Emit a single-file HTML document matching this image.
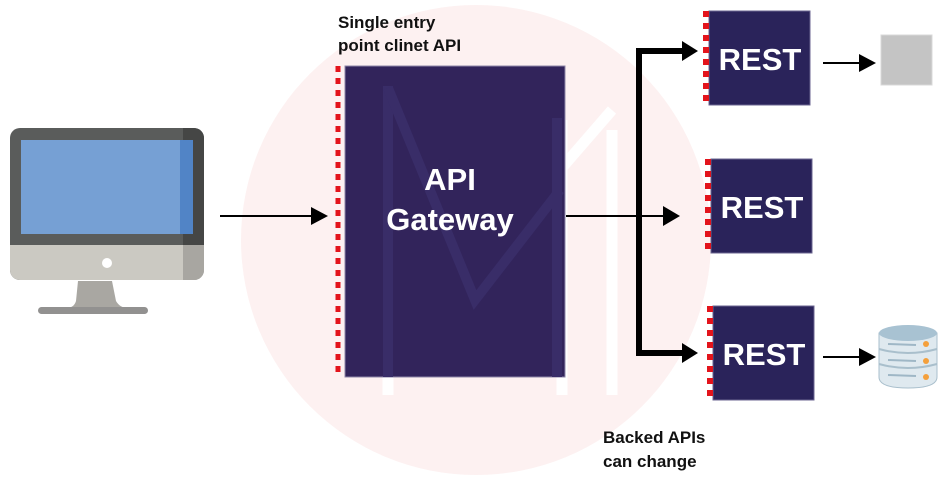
<!DOCTYPE html>
<html><head><meta charset="utf-8"><style>
body{margin:0;width:948px;height:478px;background:#fff;overflow:hidden;font-family:"Liberation Sans",sans-serif}
</style></head><body>
<svg width="948" height="478" viewBox="0 0 948 478" xmlns="http://www.w3.org/2000/svg" style="position:absolute;left:0;top:0">
<circle cx="476" cy="240" r="235" fill="#fdf1f1"/>
<g stroke="#fff" stroke-width="11" fill="none">
<line x1="388" y1="110" x2="388" y2="395"/>
<line x1="562" y1="120" x2="562" y2="395"/>
<line x1="612" y1="130" x2="612" y2="395"/>
<polyline points="560,170 612,110"/>
</g>
<!-- monitor -->
<rect x="10" y="128" width="194" height="152" rx="10" fill="#5a5c5b"/>
<path d="M183,128 h11 a10,10 0 0 1 10,10 v107 h-21z" fill="#454645"/>
<rect x="21" y="140" width="172" height="94" fill="#76a0d4"/>
<rect x="180" y="140" width="13" height="94" fill="#5184c6"/>
<path d="M10,245 h194 v25 a10,10 0 0 1 -10,10 h-174 a10,10 0 0 1 -10,-10z" fill="#cbc9c2"/>
<path d="M183,245 h21 v25 a10,10 0 0 1 -10,10 h-11z" fill="#a8a6a1"/>
<circle cx="107" cy="263" r="5" fill="#fff"/>
<path d="M78,281 h34 l4,20 q4,7 12,7 h-62 q8,0 10,-7z" fill="#a9a7a2"/>
<rect x="38" y="307" width="110" height="7" rx="3.5" fill="#929190"/>
<!-- arrow to gateway -->
<line x1="220" y1="216" x2="316" y2="216" stroke="#000" stroke-width="2"/>
<path d="M311,207 L328,216 L311,225 Z" fill="#000"/>
<!-- gateway -->
<rect x="345" y="66" width="220" height="311" fill="#32245b" stroke="#8e86a8" stroke-width="1"/>
<g stroke="#392d68" stroke-width="10" fill="none">
<line x1="388" y1="86" x2="388" y2="377"/>
<polyline points="388,88 475,300 560,190"/>
<line x1="557" y1="118" x2="557" y2="377"/>
</g>
<line x1="338" y1="66" x2="338" y2="372" stroke="#e3141c" stroke-width="5" stroke-dasharray="6,6"/>
<text x="450" y="190" fill="#fff" font-size="31" font-weight="bold" text-anchor="middle">API</text>
<text x="450" y="230" fill="#fff" font-size="31" font-weight="bold" text-anchor="middle">Gateway</text>
<text x="338" y="28" font-size="17" font-weight="bold" fill="#111">Single entry</text>
<text x="338" y="51" font-size="17" font-weight="bold" fill="#111">point clinet API</text>
<!-- connectors -->
<line x1="566" y1="216" x2="670" y2="216" stroke="#000" stroke-width="2"/>
<path d="M663,206 L680,216 L663,226 Z" fill="#000"/>
<polyline points="688,51 639,51 639,353 688,353" fill="none" stroke="#000" stroke-width="6"/>
<path d="M682,41 L698,51 L682,61 Z" fill="#000"/>
<path d="M682,343 L698,353 L682,363 Z" fill="#000"/>
<!-- REST boxes -->
<g fill="#2a235a" stroke="#6b6690" stroke-width="1">
<rect x="709" y="11" width="101" height="94"/>
<rect x="711" y="159" width="101" height="94"/>
<rect x="713" y="306" width="101" height="94"/>
</g>
<g stroke="#e3141c" stroke-width="6" stroke-dasharray="6,6">
<line x1="706" y1="11" x2="706" y2="103"/>
<line x1="708" y1="159" x2="708" y2="251"/>
<line x1="710" y1="306" x2="710" y2="398"/>
</g>
<g fill="#fff" font-size="31" font-weight="bold" text-anchor="middle">
<text x="760" y="70">REST</text>
<text x="762" y="218">REST</text>
<text x="764" y="365">REST</text>
</g>
<!-- right arrows -->
<line x1="823" y1="63" x2="865" y2="63" stroke="#000" stroke-width="2"/>
<path d="M859,54 L876,63 L859,72 Z" fill="#000"/>
<rect x="881" y="35" width="51" height="50" fill="#c4c4c4" stroke="#d8d8d8"/>
<line x1="823" y1="357" x2="865" y2="357" stroke="#000" stroke-width="2"/>
<path d="M859,348 L876,357 L859,366 Z" fill="#000"/>
<!-- database -->
<g>
<path d="M879,333 v44 q0,11 29,11 q29,0 29,-11 v-44z" fill="#dfe9ef" stroke="#a9bfcc" stroke-width="1"/>
<ellipse cx="908" cy="333" rx="29" ry="8" fill="#a8c2d2"/>
<path d="M879,349 q29,8 58,0 M879,364 q29,8 58,0" fill="none" stroke="#a9bfcc" stroke-width="2"/>
<g stroke="#9fb7c6" stroke-width="2"><line x1="888" y1="344" x2="916" y2="345"/><line x1="888" y1="360" x2="916" y2="361"/><line x1="888" y1="375" x2="916" y2="376"/></g>
<g fill="#f4a03c"><circle cx="926" cy="344" r="3"/><circle cx="926" cy="361" r="3"/><circle cx="926" cy="377" r="3"/></g>
</g>
<text x="603" y="443" font-size="17" font-weight="bold" fill="#111">Backed APIs</text>
<text x="603" y="467" font-size="17" font-weight="bold" fill="#111">can change</text>
</svg>
</body></html>
